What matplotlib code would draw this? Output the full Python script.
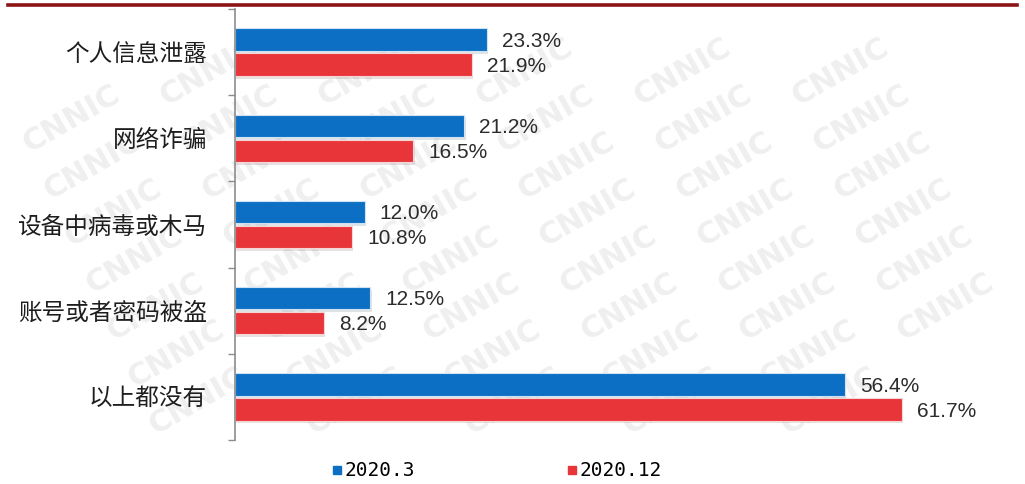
import matplotlib
matplotlib.use("Agg")
import matplotlib.pyplot as plt
import matplotlib.patheffects as pe
from matplotlib.lines import Line2D
import numpy as np

plt.rcParams['font.family'] = ['Noto Sans CJK SC', 'DejaVu Sans']

# data
categories = ['个人信息泄露', '网络诈骗', '设备中病毒或木马', '账号或者密码被盗', '以上都没有']
series_names = ['2020.3', '2020.12']
vals_2020_3 = [23.3, 21.2, 12.0, 12.5, 56.4]
vals_2020_12 = [21.9, 16.5, 10.8, 8.2, 61.7]

BLUE = '#0D6FC4'
RED = '#E8353A'
W, H = 1025, 484

fig = plt.figure(figsize=(W / 100, H / 100), dpi=100)
fig.patch.set_facecolor('white')

# faint CNNIC watermark lattice behind everything
for row in range(-4, 12):
    for col in range(-3, 9):
        x = col * 158 + row * 21 + 30
        y = row * 47 + 25
        if 60 <= x <= 965 and 36 <= y <= 442:
            fig.text(x / W, 1 - y / H, 'CNNIC', fontsize=22, fontweight='bold',
                     color='#EFEFEF', rotation=30, ha='center', va='center',
                     family='DejaVu Sans', zorder=0)

# dark red rule along the top
fig.add_artist(Line2D([8 / W, 1017 / W], [1 - 5 / H, 1 - 5 / H],
                      color='#8B1414', lw=2.6, transform=fig.transFigure))

ax = fig.add_axes([235 / W, 1 - 440 / H, 780 / W, 431 / H])
ax.patch.set_alpha(0)
ax.set_zorder(2)

y = np.arange(len(categories))
bh = 0.26
shadow = [pe.SimplePatchShadow(offset=(1, -2), alpha=0.12), pe.Normal()]
b1 = ax.barh(y - 0.145, vals_2020_3, height=bh, color=BLUE, edgecolor='#CFE2F3', lw=0.8)
b2 = ax.barh(y + 0.145, vals_2020_12, height=bh, color=RED, edgecolor='#F5D5D5', lw=0.8)
for bars in (b1, b2):
    for p in bars:
        p.set_path_effects(shadow)

for bars, vals in ((b1, vals_2020_3), (b2, vals_2020_12)):
    for p, v in zip(bars, vals):
        ax.text(v + 1.4, p.get_y() + p.get_height() / 2 + 0.02, f'{v:.1f}%',
                va='center', ha='left', fontsize=15, color='#2B2B2B',
                family='Liberation Sans')

ax.set_xlim(0, 780 / 10.81)
ax.set_ylim(len(categories) - 0.5, -0.5)

ax.set_yticks(np.arange(-0.5, len(categories)), labels=[''] * (len(categories) + 1))
ax.set_yticks(y, labels=categories, minor=True)
ax.tick_params(axis='y', which='major', length=5, color='#8C8C8C', width=1)
ax.tick_params(axis='y', which='minor', length=0, pad=20, labelsize=17, labelcolor='#1E1E1E')
ax.set_xticks([])
for side in ('top', 'right', 'bottom'):
    ax.spines[side].set_visible(False)
ax.spines['left'].set_color('#8C8C8C')
ax.spines['left'].set_linewidth(1.2)

handles = [Line2D([], [], marker='s', ls='none', ms=6, color=BLUE),
           Line2D([], [], marker='s', ls='none', ms=6, color=RED)]
fig.legend(handles, series_names, loc='center', bbox_to_anchor=(497 / W, 1 - 471 / H),
           ncol=2, frameon=False, handlelength=0.5, handletextpad=0.15,
           columnspacing=7.8, prop={'family': 'DejaVu Sans Mono', 'size': 14})

fig.savefig('out.png', dpi=100, facecolor='white')
